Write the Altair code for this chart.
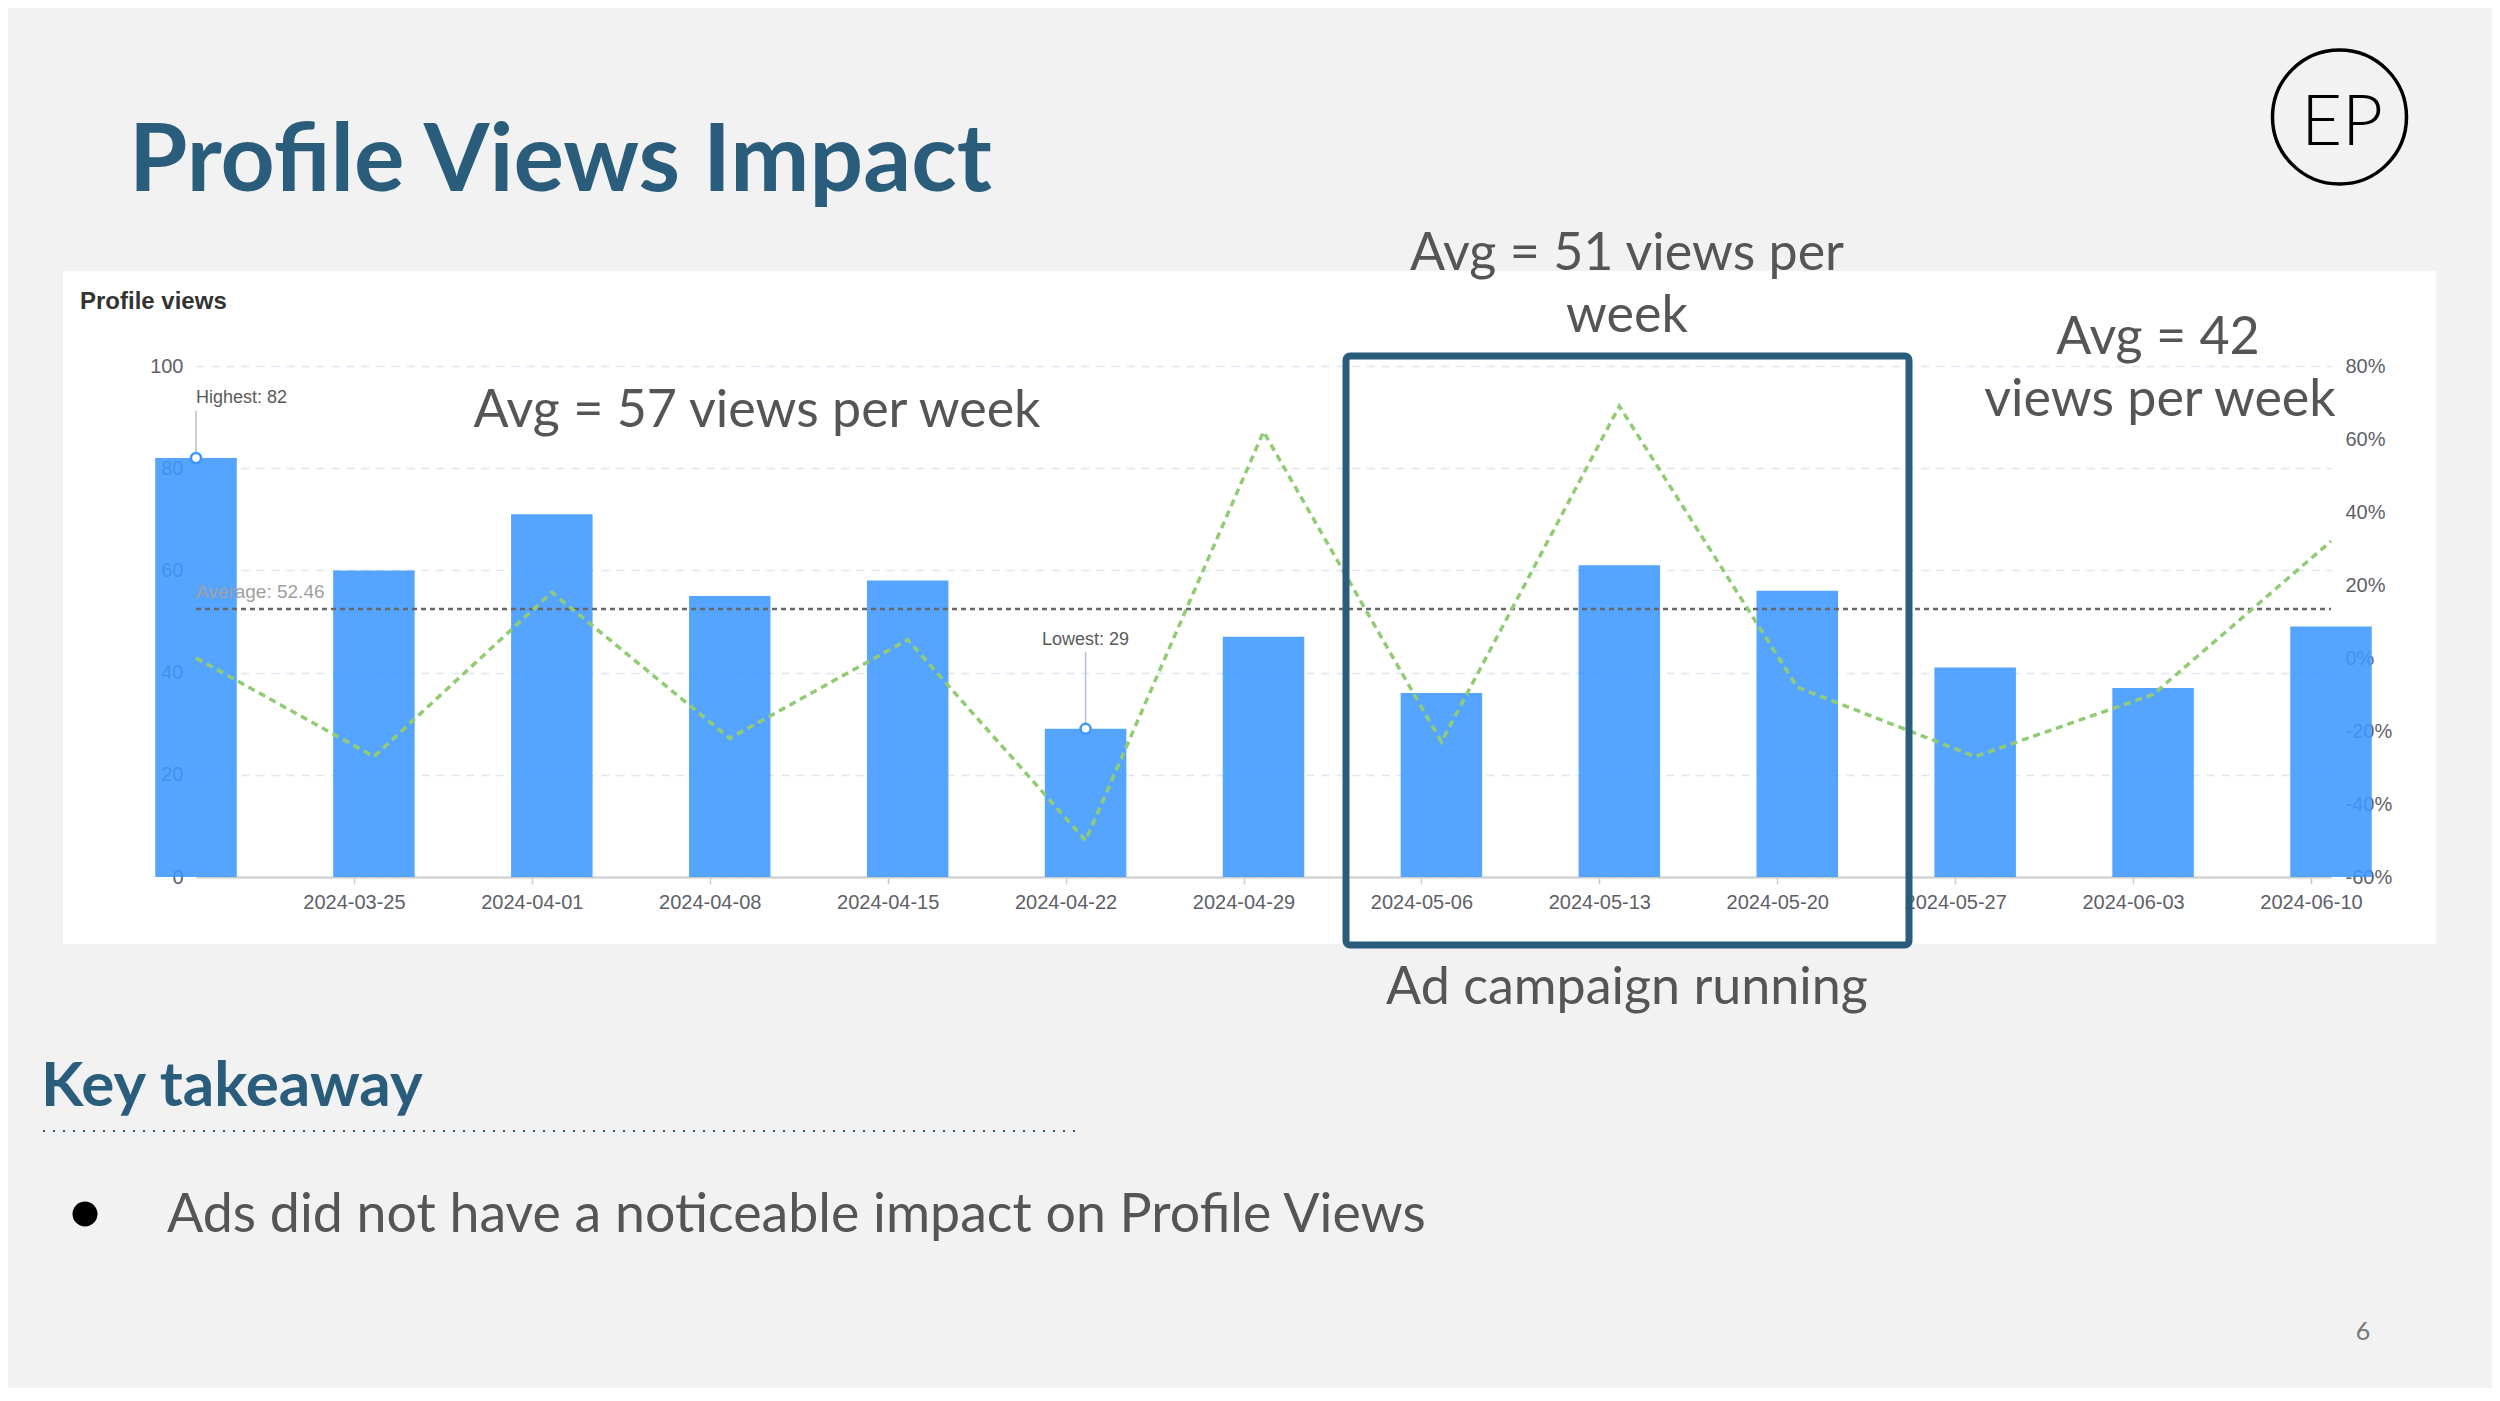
import altair as alt
import pandas as pd

# ---------------- data ----------------
weeks = ["2024-03-18", "2024-03-25", "2024-04-01", "2024-04-08", "2024-04-15",
         "2024-04-22", "2024-04-29", "2024-05-06", "2024-05-13", "2024-05-20",
         "2024-05-27", "2024-06-03", "2024-06-10"]
views = [82, 60, 71, 55, 58, 29, 47, 36, 61, 56, 41, 37, 49]
change_pct = [0, -27, 18, -22, 5, -50, 62, -23, 69, -8, -27, -10, 32]
average = [52.46]
highest = ["2024-03-18", 82]
lowest = ["2024-04-22", 29]
left_ticks = [0, 20, 40, 60, 80, 100]
right_ticks = [-60, -40, -20, 0, 20, 40, 60, 80]

df = pd.DataFrame({"week": weeks, "views": views, "change": change_pct})

# ---------------- layout ----------------
W, H = 2135, 511
PADL, PADT = 188, 358
TOTW, TOTH = 2484, 1380
PADR = TOTW - PADL - W
PADB = TOTH - PADT - H

def px(sx):
    return sx - 8 - PADL

def py(sy):
    return sy - 8 - PADT

BG = "#F2F2F2"
TEAL = "#2A5D7C"
GREY_TXT = "#555555"
AXIS_TXT = "#5E6068"
BLUE = "#3D97FF"
GREEN = "#91CC75"
SANS = "Liberation Sans"
HUM = "Lato"


def one():
    return pd.DataFrame({"k": [0]})


def rect(x1, y1, x2, y2, color):
    return alt.Chart(one()).mark_rect(color=color).encode(
        x=alt.value(x1), x2=alt.value(x2), y=alt.value(y1), y2=alt.value(y2))


def text(s, x, y, size, color, weight="normal", align="left", font=HUM, baseline="alphabetic"):
    return alt.Chart(one()).mark_text(
        text=s, fontSize=size, color=color, fontWeight=weight, align=align,
        baseline=baseline, font=font).encode(x=alt.value(x), y=alt.value(y))


# grey page around the white chart panel
panel_l, panel_t, panel_r, panel_b = px(63), py(271), px(2436), py(944)
cx0, cy0, cx1, cy1 = -PADL - 5, -PADT - 5, TOTW - PADL + 5, TOTH - PADT + 5
bg_layers = [
    rect(cx0, cy0, cx1, panel_t, BG),
    rect(cx0, panel_b, cx1, cy1, BG),
    rect(cx0, panel_t, panel_l, panel_b, BG),
    rect(panel_r, panel_t, cx1, panel_b, BG),
]

xenc = alt.X("week:O", scale=alt.Scale(type="point", padding=0),
             axis=alt.Axis(title=None, values=weeks[1:], labelAngle=0, tickOffset=-20,
                           tickSize=7, tickWidth=1.5, tickColor="#CCCCCC",
                           domainColor="#CCCCCC", domainWidth=2,
                           labelFontSize=20, labelColor=AXIS_TXT, labelFont=SANS,
                           labelPadding=8, grid=False))

yleft_scale = alt.Scale(domain=[0, 100], nice=False)

bars = alt.Chart(df).mark_bar(size=81.5, color=BLUE, opacity=0.88).encode(
    x=xenc,
    y=alt.Y("views:Q", scale=yleft_scale,
            axis=alt.Axis(title=None, orient="left", values=left_ticks, grid=True,
                          gridDash=[8, 7], gridColor="#E0E6F1", gridWidth=1.5,
                          domain=False, ticks=False, labelPadding=13,
                          labelFontSize=20, labelColor=AXIS_TXT, labelFont=SANS)),
)

avg_df = pd.DataFrame({"avg": average, "label": [f"Average: {average[0]:.2f}"]})
avg_rule = alt.Chart(avg_df).mark_rule(color="#666666", strokeDash=[5, 4], strokeWidth=2.5).encode(
    y=alt.Y("avg:Q", scale=yleft_scale), x=alt.value(0), x2=alt.value(W))
avg_text = alt.Chart(avg_df).mark_text(align="left", baseline="middle", dy=-17,
                                       fontSize=19, color="#A0A0A0", font=SANS).encode(
    y=alt.Y("avg:Q", scale=yleft_scale), x=alt.value(0), text="label:N")

hi_df = pd.DataFrame({"week": [highest[0]], "v": [highest[1]], "label": [f"Highest: {highest[1]}"]})
lo_df = pd.DataFrame({"week": [lowest[0]], "v": [lowest[1]], "label": [f"Lowest: {lowest[1]}"]})


def marker(d, top_px, dy, align):
    r = alt.Chart(d).mark_rule(color="#B4C0D4", strokeWidth=1.5).encode(
        x=alt.X("week:O"), y=alt.Y("v:Q", scale=yleft_scale), y2=alt.value(top_px))
    p = alt.Chart(d).mark_point(shape="circle", filled=True, fill="white", stroke="#3D97FF",
                                strokeWidth=2.5, size=100, opacity=1).encode(
        x=alt.X("week:O"), y=alt.Y("v:Q", scale=yleft_scale))
    t = alt.Chart(d).mark_text(align=align, baseline="middle", dy=dy, fontSize=18,
                               color="#5A5A5A", font=SANS).encode(
        x=alt.X("week:O"), y=alt.Y("v:Q", scale=yleft_scale), text="label:N")
    return [r, p, t]


left_group = alt.layer(bars, avg_rule, avg_text,
                       *marker(hi_df, py(411), -60, "left"),
                       *marker(lo_df, py(652), -89, "center"))

line = alt.Chart(df).mark_line(color=GREEN, strokeDash=[7, 5], strokeWidth=3.5).encode(
    x=alt.X("week:O"),
    y=alt.Y("change:Q", scale=alt.Scale(domain=[-60, 80], nice=False),
            axis=alt.Axis(title=None, orient="right", values=right_ticks, grid=False,
                          domain=False, ticks=False, labelPadding=14,
                          labelExpr="datum.value + '%'",
                          labelFontSize=20, labelColor=AXIS_TXT, labelFont=SANS)),
)

fg = [
    text("Profile Views Impact", px(129), py(191), 94.5, TEAL, weight="bold"),
    alt.Chart(one()).mark_point(shape="circle", filled=False, color="black", strokeWidth=3.5,
                                size=134 * 134, opacity=1).encode(
        x=alt.value(px(2339.5)), y=alt.value(py(117))),
    text("EP", px(2342), py(145), 71, "black", weight=300, align="center", font=HUM),
    text("Profile views", px(80), py(302), 24, "#333333", weight="bold", font=SANS,
         baseline="middle"),
    text("Avg = 57 views per week", px(757), py(427), 52, GREY_TXT, align="center"),
    text("Avg = 51 views per", px(1627), py(270), 52, GREY_TXT, align="center"),
    text("week", px(1627), py(332), 52, GREY_TXT, align="center"),
    text("Avg = 42", px(2158), py(354), 52, GREY_TXT, align="center"),
    text("views per week", px(2160), py(416), 52, GREY_TXT, align="center"),
    text("Ad campaign running", px(1627), py(1004), 52, GREY_TXT, align="center"),
    alt.Chart(one()).mark_rect(filled=False, color=TEAL, strokeWidth=7, cornerRadius=4).encode(
        x=alt.value(px(1346)), x2=alt.value(px(1909)), y=alt.value(py(356)), y2=alt.value(py(945))),
    text("Key takeaway", px(41), py(1106), 62, TEAL, weight="bold"),
    alt.Chart(one()).mark_rule(color=TEAL, strokeDash=[2, 8], strokeWidth=2).encode(
        x=alt.value(px(43)), x2=alt.value(px(1077)), y=alt.value(py(1131))),
    alt.Chart(one()).mark_point(shape="circle", filled=True, color="black", size=25 * 25,
                                opacity=1).encode(x=alt.value(px(85)), y=alt.value(py(1214))),
    text("Ads did not have a noticeable impact on Profile Views", px(167), py(1232), 53.7, GREY_TXT),
    text("6", px(2363), py(1340), 25, "#777777", align="center"),
]

chart = alt.layer(*bg_layers, left_group, line, *fg).resolve_scale(y="independent").properties(
    width=W, height=H,
    padding={"left": PADL, "top": PADT, "right": PADR, "bottom": PADB},
    autosize=alt.AutoSizeParams(type="none"),
    background="white",
).configure_view(stroke=None)

chart.save("out.html", embed_options={"renderer": "svg", "actions": False})
